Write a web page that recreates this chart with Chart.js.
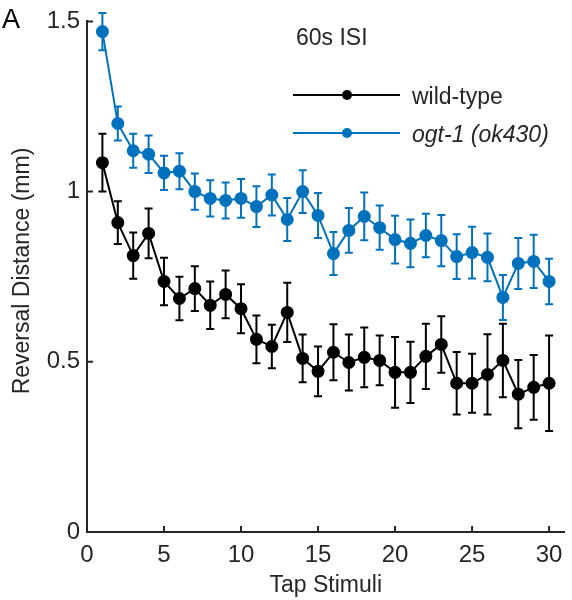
<!DOCTYPE html>
<html>
<head>
<meta charset="utf-8">
<script src="https://cdn.jsdelivr.net/npm/chart.js@4/dist/chart.umd.min.js"></script>
<style>
  html, body { margin: 0; padding: 0; background: #fff; }
  #wrap { width: 572px; height: 600px; position: relative; }
</style>
</head>
<body>
<div id="wrap"><canvas id="habChart"></canvas></div>
<script>
const taps = [1, 2, 3, 4, 5, 6, 7, 8, 9, 10, 11, 12, 13, 14, 15, 16, 17, 18, 19, 20, 21, 22, 23, 24, 25, 26, 27, 28, 29, 30];

const wtMean = [1.085, 0.909, 0.812, 0.877, 0.736, 0.686, 0.715, 0.666, 0.698, 0.656,
                0.566, 0.545, 0.645, 0.510, 0.472, 0.528, 0.498, 0.513, 0.504, 0.469,
                0.469, 0.516, 0.551, 0.437, 0.437, 0.463, 0.504, 0.405, 0.425, 0.437];
const wtErr = [0.085, 0.063, 0.068, 0.073, 0.070, 0.064, 0.066, 0.070, 0.070, 0.072,
               0.070, 0.064, 0.087, 0.070, 0.073, 0.082, 0.082, 0.088, 0.073, 0.104,
               0.090, 0.096, 0.083, 0.092, 0.087, 0.118, 0.108, 0.100, 0.095, 0.140];

const ogtMean = [1.470, 1.200, 1.120, 1.110, 1.055, 1.060, 1.000, 0.980, 0.974, 0.980,
                 0.956, 0.990, 0.918, 1.000, 0.930, 0.818, 0.886, 0.927, 0.894, 0.859,
                 0.848, 0.871, 0.856, 0.809, 0.821, 0.807, 0.689, 0.789, 0.795, 0.736];
const ogtErr = [0.055, 0.050, 0.050, 0.055, 0.050, 0.053, 0.053, 0.053, 0.053, 0.057,
                0.060, 0.060, 0.063, 0.063, 0.066, 0.063, 0.066, 0.070, 0.065, 0.070,
                0.070, 0.064, 0.075, 0.066, 0.076, 0.070, 0.066, 0.075, 0.078, 0.067];

const xTicks = [0, 5, 10, 15, 20, 25, 30];
const yTicks = [0, 0.5, 1, 1.5];

const BLUE = "#0072BD";
const BLACK = "#000000";
const AXIS = "#262626";
const FONT = "'Liberation Sans', Arial, Helvetica, sans-serif";

const errs = [wtErr, ogtErr];

// error bars, inward ticks, legend and labels
const extras = {
    id: "extras",
    beforeDatasetsDraw(chart) {
        const ctx = chart.ctx;
        const xs = chart.scales.x, ys = chart.scales.y;
        chart.data.datasets.forEach((ds, i) => {
            ctx.save();
            ctx.strokeStyle = ds.borderColor;
            ctx.lineWidth = 2;
            ds.data.forEach((p, j) => {
                const x = xs.getPixelForValue(p.x);
                const yt = ys.getPixelForValue(p.y + errs[i][j]);
                const yb = ys.getPixelForValue(p.y - errs[i][j]);
                ctx.beginPath();
                ctx.moveTo(x, yt); ctx.lineTo(x, yb);
                ctx.moveTo(x - 4, yt); ctx.lineTo(x + 4, yt);
                ctx.moveTo(x - 4, yb); ctx.lineTo(x + 4, yb);
                ctx.stroke();
            });
            ctx.restore();
        });
    },
    afterDraw(chart) {
        const ctx = chart.ctx;
        const xs = chart.scales.x, ys = chart.scales.y;
        const a = chart.chartArea;
        ctx.save();
        ctx.strokeStyle = AXIS;
        ctx.lineWidth = 2;
        ctx.beginPath();
        xTicks.forEach(v => {
            const x = xs.getPixelForValue(v);
            if (v > 0) { ctx.moveTo(x, a.bottom); ctx.lineTo(x, a.bottom - 6); }
        });
        yTicks.forEach(v => {
            const y = ys.getPixelForValue(v);
            if (v > 0) { ctx.moveTo(a.left, y); ctx.lineTo(a.left + 6, y); }
        });
        ctx.stroke();

        // panel letter and condition
        ctx.fillStyle = "#000";
        ctx.font = "27px " + FONT;
        ctx.textBaseline = "alphabetic";
        ctx.textAlign = "left";
        ctx.fillText("A", 2, 28);
        ctx.fillStyle = AXIS;
        ctx.font = "23px " + FONT;
        ctx.fillText("60s ISI", 296, 45);

        // axis titles
        ctx.textAlign = "center";
        ctx.fillText("Tap Stimuli", (a.left + a.right) / 2, 592);
        ctx.save();
        ctx.translate(29, 271);
        ctx.rotate(-Math.PI / 2);
        ctx.fillText("Reversal Distance (mm)", 0, 0);
        ctx.restore();

        // legend
        const rows = [
            { y: 95, color: BLACK, label: "wild-type", italic: false },
            { y: 133, color: BLUE, label: "ogt-1 (ok430)", italic: true }
        ];
        rows.forEach(r => {
            ctx.strokeStyle = r.color;
            ctx.lineWidth = 2;
            ctx.beginPath();
            ctx.moveTo(293, r.y); ctx.lineTo(400, r.y);
            ctx.stroke();
            ctx.fillStyle = r.color;
            ctx.beginPath();
            ctx.arc(347, r.y, 5, 0, Math.PI * 2);
            ctx.fill();
            ctx.fillStyle = AXIS;
            ctx.font = (r.italic ? "italic " : "") + "23px " + FONT;
            ctx.textAlign = "left";
            ctx.fillText(r.label, 412, r.y + 9);
        });
        ctx.restore();
    }
};

new Chart(document.getElementById("habChart"), {
    type: "line",
    data: {
        datasets: [
            {
                label: "wild-type",
                data: taps.map((t, i) => ({ x: t, y: wtMean[i] })),
                borderColor: BLACK,
                backgroundColor: BLACK,
                borderWidth: 2,
                pointRadius: 5.5,
                pointHoverRadius: 5.5,
                tension: 0,
                clip: false
            },
            {
                label: "ogt-1 (ok430)",
                data: taps.map((t, i) => ({ x: t, y: ogtMean[i] })),
                borderColor: BLUE,
                backgroundColor: BLUE,
                borderWidth: 2,
                pointRadius: 5.5,
                pointHoverRadius: 5.5,
                tension: 0,
                clip: false
            }
        ]
    },
    options: {
        responsive: true,
        maintainAspectRatio: false,
        animation: false,
        layout: { padding: { top: 21, right: 2, left: 0, bottom: 0 } },
        plugins: { legend: { display: false }, tooltip: { enabled: false } },
        scales: {
            x: {
                type: "linear",
                min: 0,
                max: 31,
                afterFit: s => { s.height = 68; },
                afterBuildTicks: s => { s.ticks = xTicks.map(v => ({ value: v })); },
                grid: { display: false, drawTicks: false },
                border: { display: true, color: AXIS, width: 2 },
                ticks: { color: AXIS, font: { family: FONT, size: 24 }, padding: 9, maxRotation: 0 }
            },
            y: {
                type: "linear",
                min: 0,
                max: 1.5,
                afterFit: s => { s.width = 87; },
                afterBuildTicks: s => { s.ticks = yTicks.map(v => ({ value: v })); },
                grid: { display: false, drawTicks: false },
                border: { display: true, color: AXIS, width: 2 },
                ticks: { color: AXIS, font: { family: FONT, size: 24 }, padding: 7, callback: v => String(v) }
            }
        }
    },
    plugins: [extras]
});
</script>
</body>
</html>
